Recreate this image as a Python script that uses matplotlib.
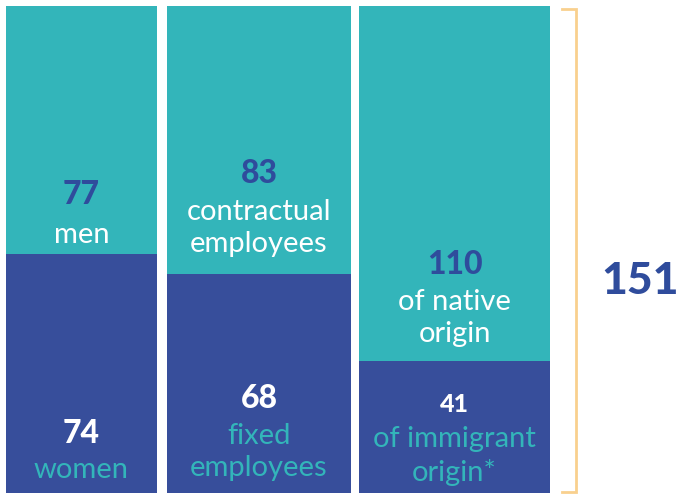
import matplotlib.pyplot as plt
from matplotlib.transforms import blended_transform_factory

# --- data ---
groups = ["gender", "contract", "origin"]
bottom_values = [74, 68, 41]
top_values = [77, 83, 110]
bottom_labels = ["women", "fixed\nemployees", "of immigrant\norigin*"]
top_labels = ["men", "contractual\nemployees", "of native\norigin"]
total = 151

# --- layout (pixel-ish x units) ---
bar_left = [6, 167, 359]
bar_width = [151, 184, 191]
teal = "#33B5BA"
navy = "#374E9B"
num_navy = "#2F4C9C"
bracket_color = "#F9D08E"

plt.rcParams["font.family"] = ["Lato", "DejaVu Sans"]

W, H = 677, 494
fig = plt.figure(figsize=(W / 100, H / 100), dpi=100)
ax = fig.add_axes([0, 1 / H, 1, 487 / H])
ax.set_xlim(0, W)
ax.set_ylim(0, total)
ax.axis("off")

ax.bar(bar_left, bottom_values, width=bar_width, align="edge", color=navy, linewidth=0)
ax.bar(bar_left, top_values, width=bar_width, bottom=bottom_values, align="edge",
       color=teal, linewidth=0)

# text positions in figure pixels from the top
tr = blended_transform_factory(ax.transData, fig.transFigure)


def fy(yp):
    return 1 - yp / H


top_num_y = [195, 173, 265]
top_lab_y = [235, 228, 318]
bot_num_y = [433, 398, 404]
bot_lab_y = [470, 452, 456]
bot_num_size = [23, 23, 18]

for i in range(len(groups)):
    cx = bar_left[i] + bar_width[i] / 2
    ax.text(cx, fy(top_num_y[i]), str(top_values[i]), transform=tr, ha="center", va="center",
            fontsize=23, fontweight="black", color=num_navy)
    ax.text(cx, fy(top_lab_y[i]), top_labels[i], transform=tr, ha="center", va="center",
            fontsize=21, color="white", linespacing=1.3)
    ax.text(cx, fy(bot_num_y[i]), str(bottom_values[i]), transform=tr, ha="center", va="center",
            fontsize=bot_num_size[i], fontweight="black", color="white")
    ax.text(cx, fy(bot_lab_y[i]), bottom_labels[i], transform=tr, ha="center", va="center",
            fontsize=21, color=teal, linespacing=1.3)

# bracket
bx = 576
ax.plot([562, bx, bx, 562], [150, 150, 0.3, 0.3], color=bracket_color, lw=2,
        solid_joinstyle="miter", clip_on=False)

ax.text(601, fy(281), str(total), transform=tr, ha="left", va="center",
        fontsize=32, fontweight="black", color=num_navy)

fig.savefig("out.png", dpi=100)
